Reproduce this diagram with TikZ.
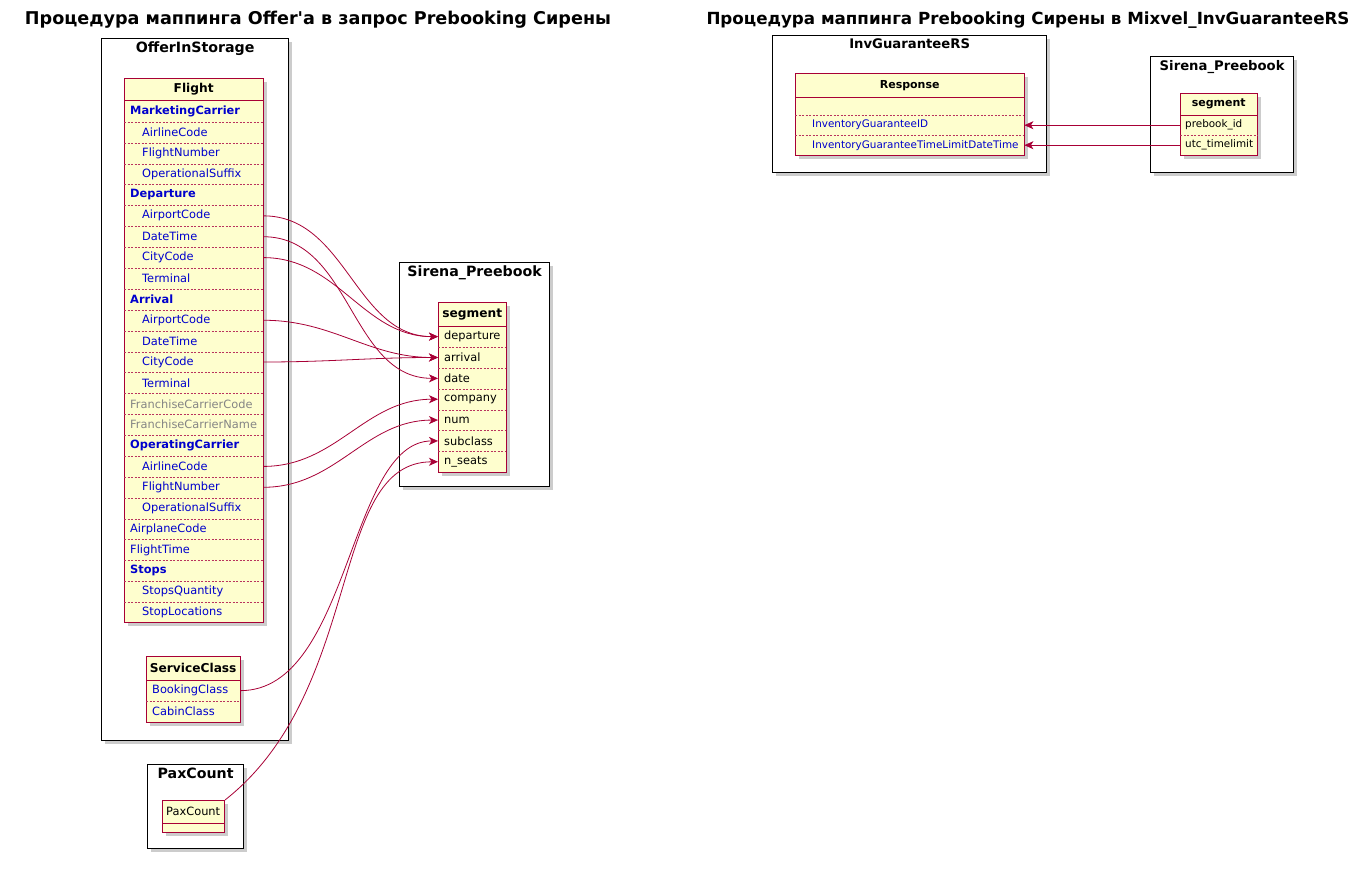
\documentclass[tikz,border=0pt]{standalone}
\usepackage{fontspec}
\setmainfont{DejaVu Sans}
\usetikzlibrary{positioning,shadows,arrows.meta}

\definecolor{umlred}{HTML}{A80036}
\definecolor{umlfill}{HTML}{FEFECE}
\definecolor{fldblue}{HTML}{0000CC}
\definecolor{fldgray}{HTML}{858585}

\newcommand\ttlfont{\bfseries\fontsize{17.6}{21}\selectfont}
\newcommand\pkgfont{\bfseries\fontsize{14.2}{17}\selectfont}
\newcommand\hdrfont{\bfseries\fontsize{12.2}{14.5}\selectfont}
\newcommand\fldfont{\fontsize{11.4}{13.5}\selectfont}
\newcommand\smfont{\fontsize{10.4}{12.5}\selectfont}

\tikzset{
  pkg/.style={draw=black, line width=1.3pt, fill=white, anchor=north west,
    drop shadow={shadow xshift=3.5pt, shadow yshift=-3.5pt, opacity=0.4}},
  pkgtitle/.style={anchor=north, inner sep=4pt, font=\pkgfont},
  tbl/.style={draw=umlred, line width=1pt, fill=umlfill, anchor=north west,
    drop shadow={shadow xshift=3.5pt, shadow yshift=-3.5pt, opacity=0.4}},
  hdr/.style={anchor=north west, inner sep=0pt, minimum width=#1,
    minimum height=22pt, font=\hdrfont},
  pad/.store in=\fldpad, pad=6pt,
  field/.style={anchor=north west, inner xsep=0pt, inner ysep=0pt,
    minimum width=#1, text width=#1, minimum height=20.88pt, align=left,
    font=\fldfont, text=fldblue, execute at begin node=\hspace*{\fldpad}},
  fgroup/.style={font=\bfseries\fldfont},
  fsub/.style={pad=18pt},
  foff/.style={text=fldgray},
  fplain/.style={},
  sep/.style={draw=umlred!80, line width=0.5pt, dash pattern=on 2pt off 1.5pt},
  hsep/.style={draw=umlred, line width=1pt},
  link/.style={draw=umlred, line width=0.8pt, -{Stealth[length=9pt,width=8pt,inset=2.5pt]}},
}

\begin{document}
\begin{tikzpicture}[x=1pt,y=-1pt]
\useasboundingbox[fill=white] (0,0) rectangle (1371,868);

% titles
\node[font=\ttlfont] (ttlleft) at (318,20) {Процедура маппинга Offer\textquotesingle a в запрос Prebooking Сирены};
\node[font=\bfseries\fontsize{16.7}{20}\selectfont] (ttlright) at (1028,20) {Процедура маппинга Prebooking Сирены в Mixvel\_InvGuaranteeRS};

% OfferInStorage
\node[pkg, minimum width=187pt, minimum height=702pt] (offer) at (101,38) {};
\node[pkgtitle] (offerttl) at (offer.north) {OfferInStorage};

\node[tbl, minimum width=139pt, minimum height=544pt] (flight) at (124,78) {};
\node[hdr=139pt] (flighthdr) at (124,78) {Flight};
\draw[hsep] (flighthdr.south west) -- (flighthdr.south east);
\foreach \t/\s [count=\i] in {MarketingCarrier/fgroup, AirlineCode/fsub,
    FlightNumber/fsub, OperationalSuffix/fsub, Departure/fgroup,
    AirportCode/fsub, DateTime/fsub, CityCode/fsub, Terminal/fsub,
    Arrival/fgroup, AirportCode/fsub, DateTime/fsub, CityCode/fsub,
    Terminal/fsub, FranchiseCarrierCode/foff, FranchiseCarrierName/foff,
    OperatingCarrier/fgroup, AirlineCode/fsub, FlightNumber/fsub,
    OperationalSuffix/fsub, AirplaneCode/fplain, FlightTime/fplain,
    Stops/fgroup, StopsQuantity/fsub, StopLocations/fsub}
  \node[field=139pt, \s] (fl\i) at (124,{100.8+(\i-1)*20.88}) {\t};
\foreach \i in {1,...,24}
  \draw[sep] (fl\i.south west) -- (fl\i.south east);

\node[tbl, minimum width=94pt, minimum height=66pt] (svc) at (146,656) {};
\node[hdr=94pt, minimum height=24pt] (svchdr) at (146,656) {ServiceClass};
\draw[hsep] (svchdr.south west) -- (svchdr.south east);
\node[field=94pt] (sc1) at (146,680) {BookingClass};
\node[field=94pt] (sc2) at (146,701) {CabinClass};
\draw[sep] (sc1.south west) -- (sc1.south east);

% PaxCount
\node[pkg, minimum width=96pt, minimum height=84pt] (paxpkg) at (147,764) {};
\node[pkgtitle] (paxttl) at (paxpkg.north) {PaxCount};
\node[tbl, minimum width=62pt, minimum height=32pt] (pax) at (162,800) {};
\node[hdr=62pt, minimum height=23pt, font=\fldfont] (paxhdr) at (162,800) {PaxCount};
\draw[hsep] (paxhdr.south west) -- (paxhdr.south east);

% Sirena_Preebook (left)
\node[pkg, minimum width=150pt, minimum height=224pt] (sirena) at (399,262) {};
\node[pkgtitle] (sirenattl) at (sirena.north) {Sirena\_Preebook};
\node[tbl, minimum width=68pt, minimum height=170pt] (seg) at (438,302) {};
\node[hdr=68pt, minimum height=24pt] (seghdr) at (438,302) {segment};
\draw[hsep] (seghdr.south west) -- (seghdr.south east);
\foreach \t [count=\i] in {departure, arrival, date, company, num, subclass, n\_seats}
  \node[field=68pt, text=black, minimum height=20.86pt] (sg\i) at (438,{326+(\i-1)*20.86}) {\t};
\foreach \i in {1,...,6}
  \draw[sep] (sg\i.south west) -- (sg\i.south east);

% links Offer -> Sirena
\draw[link] (fl6.east) to[out=0,in=180] (sg1.west);
\draw[link] (fl7.east) to[out=0,in=180] (sg3.west);
\draw[link] (fl8.east) to[out=0,in=180] (sg1.west);
\draw[link] (fl11.east) to[out=0,in=180] (sg2.west);
\draw[link] (fl13.east) to[out=0,in=180] (sg2.west);
\draw[link] (fl18.east) to[out=0,in=180] (sg4.west);
\draw[link] (fl19.east) to[out=0,in=180] (sg5.west);
\draw[link] (sc1.east) .. controls +(110,0) and +(-90,0) .. (sg6.west);
\draw[link] (pax.north east) .. controls +(140,-110) and +(-110,0) .. (sg7.west);

% InvGuaranteeRS
\node[pkg, minimum width=274pt, minimum height=137pt] (invrs) at (772,35) {};
\node[pkgtitle, font=\bfseries\fontsize{13.2}{16}\selectfont] (invrsttl) at (invrs.north) {InvGuaranteeRS};
\node[tbl, minimum width=229pt, minimum height=82pt] (resp) at (795,73) {};
\node[hdr=229pt, minimum height=24pt, font=\bfseries\fontsize{11}{13}\selectfont] (resphdr) at (795,73) {Response};
\draw[hsep] (resphdr.south west) -- (resphdr.south east);
\node[field=229pt, minimum height=18pt] (rs0) at (795,97) {};
\node[field=229pt, minimum height=20pt, font=\smfont, pad=17pt] (rs1) at (795,115) {InventoryGuaranteeID};
\node[field=229pt, minimum height=20pt, font=\smfont, pad=17pt] (rs2) at (795,135) {InventoryGuaranteeTimeLimitDateTime};
\draw[sep] (rs0.south west) -- (rs0.south east);
\draw[sep] (rs1.south west) -- (rs1.south east);

% Sirena_Preebook (right)
\node[pkg, minimum width=143pt, minimum height=116pt] (sirenb) at (1150,56) {};
\node[pkgtitle, font=\bfseries\fontsize{13.2}{16}\selectfont] (sirenbttl) at (sirenb.north) {Sirena\_Preebook};
\node[tbl, minimum width=77pt, minimum height=62pt] (segb) at (1180,93) {};
\node[hdr=77pt, font=\bfseries\fontsize{11}{13}\selectfont] (segbhdr) at (1180,93) {segment};
\draw[hsep] (segbhdr.south west) -- (segbhdr.south east);
\node[field=77pt, text=black, minimum height=20pt, font=\smfont, pad=5pt] (sb1) at (1180,115) {prebook\_id};
\node[field=77pt, text=black, minimum height=20pt, font=\smfont, pad=5pt] (sb2) at (1180,135) {utc\_timelimit};
\draw[sep] (sb1.south west) -- (sb1.south east);

% links Sirena -> InvGuaranteeRS
\draw[link] (sb1.west) -- (rs1.east);
\draw[link] (sb2.west) -- (rs2.east);
\end{tikzpicture}
\end{document}
